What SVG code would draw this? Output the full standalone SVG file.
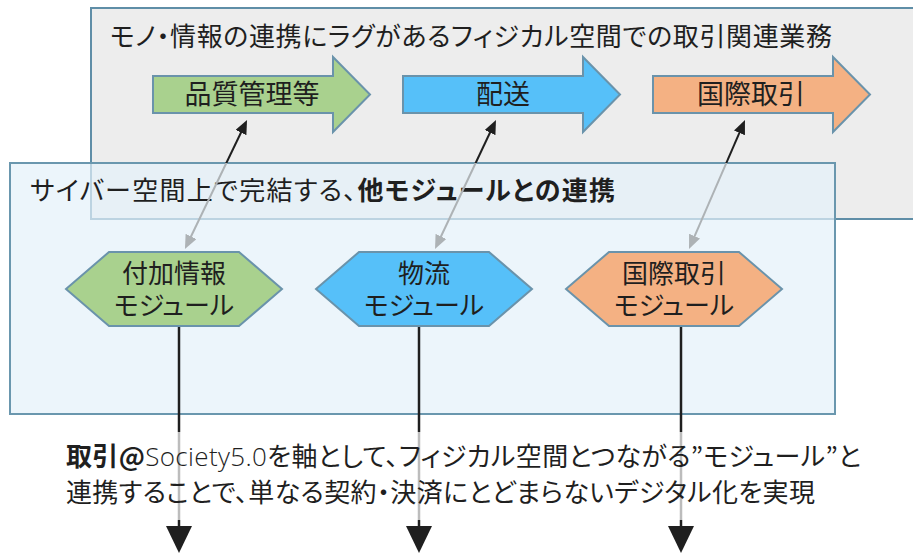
<svg xmlns="http://www.w3.org/2000/svg" width="913" height="555" viewBox="0 0 913 555">
<style>
text{font-family:"Noto Sans CJK JP","Noto Sans",sans-serif;fill:#1f1f1f;font-feature-settings:"palt" 1}
.frame{stroke:#5f8ea7;stroke-width:2}
.shape{stroke:#6a93ab;stroke-width:2}
.t-title{font-size:26px}
.t-arrow{font-size:27px;text-anchor:middle}
.t-hex{font-size:26px;text-anchor:middle}
.t-note{font-size:26px}
.b{font-weight:bold}
.lat{font-family:"Open Sans","Liberation Sans",sans-serif;font-weight:300;font-feature-settings:normal}
.diag{stroke:url(#gDiag);stroke-width:2;fill:none}
.vert{stroke:url(#gVert);stroke-width:2.5;fill:none}
</style>
<defs>
<linearGradient id="gDiag" gradientUnits="userSpaceOnUse" x1="0" y1="0" x2="0" y2="555">
<stop offset="0.2937" stop-color="#1f1f1f"/>
<stop offset="0.2937" stop-color="#adb2b5"/>
</linearGradient>
<linearGradient id="gVert" gradientUnits="userSpaceOnUse" x1="0" y1="0" x2="0" y2="555">
<stop offset="0.7784" stop-color="#1f1f1f"/>
<stop offset="0.7784" stop-color="#bcbcbc"/>
<stop offset="0.9369" stop-color="#bcbcbc"/>
<stop offset="0.9369" stop-color="#1f1f1f"/>
</linearGradient>
<marker id="mBlack" markerUnits="userSpaceOnUse" viewBox="0 0 14 12" markerWidth="14" markerHeight="12" refX="4" refY="6" orient="auto">
<path d="M0,0 L14,6 L0,12 Z" fill="#1f1f1f"/>
</marker>
<marker id="mGrey" markerUnits="userSpaceOnUse" viewBox="0 0 14 12" markerWidth="14" markerHeight="12" refX="4" refY="6" orient="auto-start-reverse">
<path d="M0,0 L14,6 L0,12 Z" fill="#adb2b5"/>
</marker>
<marker id="mDown" markerUnits="userSpaceOnUse" viewBox="0 0 27 26" markerWidth="27" markerHeight="26" refX="4" refY="13" orient="auto">
<path d="M0,0 L27,13 L0,26 Z" fill="#1f1f1f"/>
</marker>
</defs>

<g id="physical-space">
<rect class="frame" x="91" y="8" width="840" height="211" fill="#ededed"/>
<text class="t-title" x="110" y="46" textLength="722">モノ・情報の連携にラグがあるフィジカル空間での取引関連業務</text>
</g>

<g id="process-quality">
<path class="shape" d="M153,76 H333 V57 L370,94.5 L333,132 V113 H153 Z" fill="#a9d18e"/>
<text class="t-arrow" x="252" y="104">品質管理等</text>
</g>
<g id="process-delivery">
<path class="shape" d="M403,76 H583 V57 L620,94.5 L583,132 V113 H403 Z" fill="#56c0f9"/>
<text class="t-arrow" x="503" y="104">配送</text>
</g>
<g id="process-trade">
<path class="shape" d="M653,76 H833 V57 L870,94.5 L833,132 V113 H653 Z" fill="#f4b183"/>
<text class="t-arrow" x="751" y="104">国際取引</text>
</g>

<g id="cyber-space">
<rect x="10" y="163" width="825" height="251" fill="#e4f1f9" fill-opacity="0.7" stroke="#6a97ae" stroke-width="2"/>
<text class="t-title" x="30" y="200" textLength="585">サイバー空間上で完結する、<tspan class="b">他モジュールとの連携</tspan></text>
</g>

<g id="connectors">
<line class="diag" x1="189.3" y1="240" x2="242.7" y2="129" marker-start="url(#mGrey)" marker-end="url(#mBlack)"/>
<line class="diag" x1="439.3" y1="240" x2="491.7" y2="129" marker-start="url(#mGrey)" marker-end="url(#mBlack)"/>
<line class="diag" x1="693" y1="239.8" x2="741" y2="129.2" marker-start="url(#mGrey)" marker-end="url(#mBlack)"/>
<line class="vert" x1="179" y1="326" x2="179" y2="530" marker-end="url(#mDown)"/>
<line class="vert" x1="419" y1="326" x2="419" y2="530" marker-end="url(#mDown)"/>
<line class="vert" x1="681" y1="326" x2="681" y2="530" marker-end="url(#mDown)"/>
</g>

<g id="module-info">
<path class="shape" d="M66,289 L109,252 H239 L282,289 L239,326 H109 Z" fill="#a9d18e"/>
<text class="t-hex"><tspan x="174" y="283">付加情報</tspan><tspan x="174" y="315">モジュール</tspan></text>
</g>
<g id="module-logistics">
<path class="shape" d="M316,289 L359,252 H489 L532,289 L489,326 H359 Z" fill="#56c0f9"/>
<text class="t-hex"><tspan x="424" y="283">物流</tspan><tspan x="424" y="315">モジュール</tspan></text>
</g>
<g id="module-trade">
<path class="shape" d="M566,289 L609,252 H739 L782,289 L739,326 H609 Z" fill="#f4b183"/>
<text class="t-hex"><tspan x="674" y="283">国際取引</tspan><tspan x="674" y="315">モジュール</tspan></text>
</g>

<g id="summary">
<text class="t-note" x="66" y="466" textLength="795"><tspan class="b">取引@</tspan><tspan class="lat">Society5.0</tspan>を軸として、フィジカル空間とつながる”モジュール”と</text>
<text class="t-note" x="66" y="502" textLength="749">連携することで、単なる契約・決済にとどまらないデジタル化を実現</text>
</g>
</svg>
